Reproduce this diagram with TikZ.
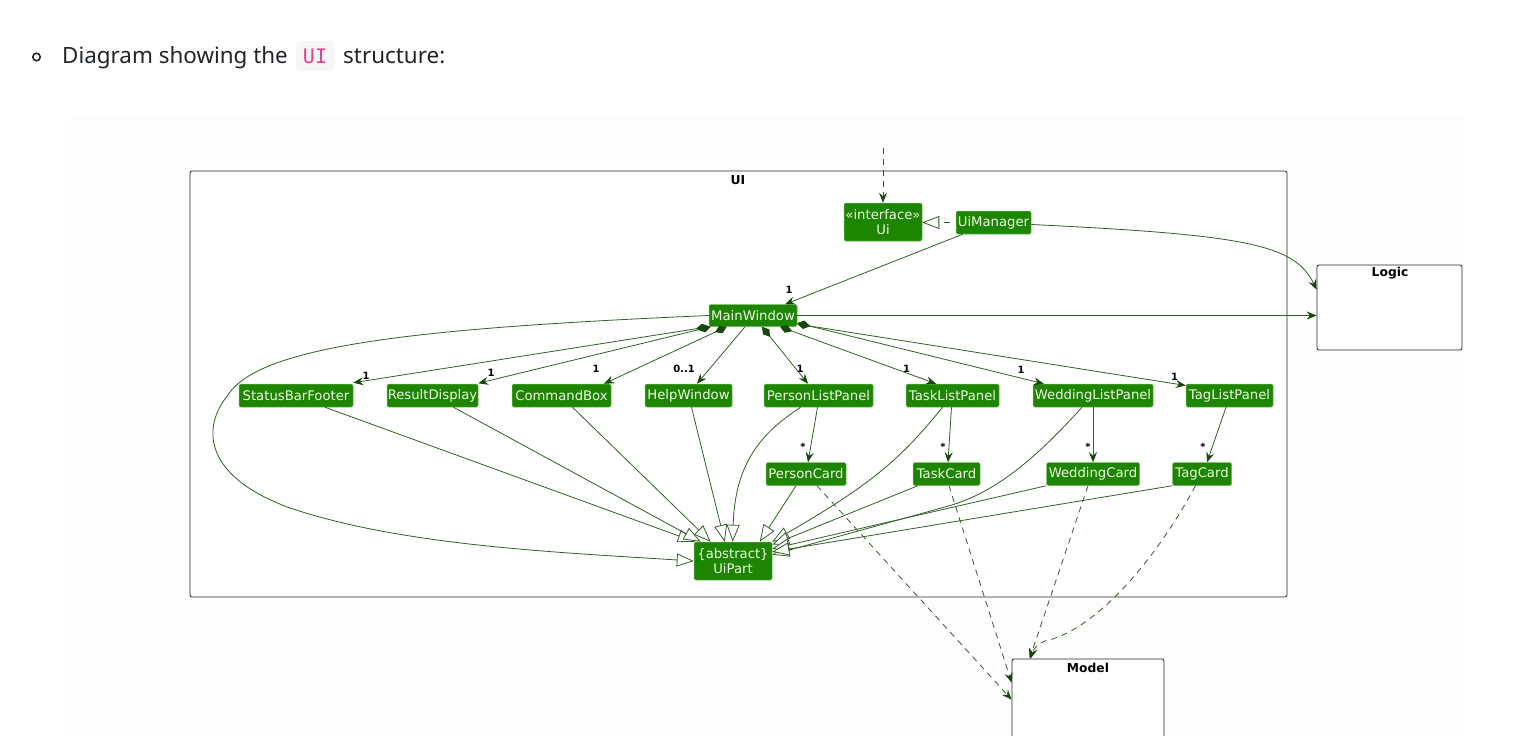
\documentclass[tikz,border=0pt]{standalone}
\usepackage{fontspec}
\setmainfont{Noto Sans}
\newfontfamily\dejavu{DejaVu Sans}
\newfontfamily\codefont{DejaVu Sans Mono}
\usetikzlibrary{arrows.meta,calc}
\definecolor{umlgreen}{RGB}{29,133,0}
\definecolor{umlrim}{RGB}{120,185,100}
\definecolor{umltext}{RGB}{240,248,235}
\definecolor{edgecol}{RGB}{50,95,40}
\definecolor{headcol}{RGB}{22,72,12}
\definecolor{framecol}{RGB}{40,40,40}
\definecolor{titlecol}{RGB}{33,37,41}
\definecolor{codebg}{RGB}{246,246,246}
\definecolor{codepink}{RGB}{232,62,140}
\definecolor{pagebg}{RGB}{253,253,253}
\tikzset{
  cls/.style={draw=umlrim, line width=0.5pt, fill=umlgreen, text=umltext,
    font=\dejavu\fontsize{13.2}{15.8}\selectfont, inner sep=0pt,
    rounded corners=1.5pt, align=center},
  pkg/.style={draw=framecol, line width=0.8pt, fill=white, rounded corners=2pt, inner sep=0pt},
  pkglabel/.style={font=\dejavu\bfseries\fontsize{12.3}{14}\selectfont, inner sep=0pt, text=black},
  edge/.style={draw=edgecol, line width=0.8pt},
  nav/.style={edge, -{Stealth[length=10pt,width=8pt,inset=3.5pt,color=headcol]}},
  comp/.style={edge, {Diamond[length=13pt,width=8pt,color=headcol]}-{Stealth[length=10pt,width=8pt,inset=3.5pt,color=headcol]}},
  gen/.style={edge, -{Triangle[open,length=17pt,width=13pt,fill=white,color=edgecol]}},
  dep/.style={nav, dash pattern=on 6pt off 5pt},
  mult/.style={font=\dejavu\bfseries\fontsize{10}{12}\selectfont, inner sep=0pt, text=black},
}
\begin{document}
\begin{tikzpicture}[x=1pt,y=-1pt]
\useasboundingbox (0,0) rectangle (1518,736);
\fill[white] (0,0) rectangle (1518,736);
\fill[pagebg] (70,117) rectangle (1465,736);

% heading
\node[circle, draw=titlecol, line width=1.6pt, minimum size=7.5pt, inner sep=0pt] (bullet) at (36.5,57) {};
\node[anchor=base west, font=\fontsize{22.4}{26}\selectfont, text=titlecol, inner sep=0pt] (t1) at (62,63) {Diagram showing the};
\node[fill=codebg, rounded corners=4pt, minimum width=38pt, minimum height=30pt, inner sep=0pt] (uicode) at (315,56) {};
\node[anchor=base, font=\codefont\fontsize{20}{24}\selectfont, text=codepink, inner sep=0pt] (uitext) at (315,63) {UI};
\node[anchor=base west, font=\fontsize{22.4}{26}\selectfont, text=titlecol, inner sep=0pt] (t2) at (343,63) {structure:};

% packages
\node[pkg, minimum width=1097pt, minimum height=426pt] (frame) at (738.5,384) {};
\node[pkglabel] (framelabel) at (738,180) {UI};
\node[pkg, minimum width=145pt, minimum height=85pt] (logic) at (1389.5,307.5) {};
\node[pkglabel] (logiclabel) at (1390,273.5) {Logic};
\node[pkg, minimum width=152pt, minimum height=91pt] (model) at (1088,704.5) {};
\node[pkglabel] (modellabel) at (1088,668) {Model};

% classes
\node[cls, minimum width=78pt, minimum height=38pt] (ui) at (883,222) {«interface»\\Ui};
\node[cls, minimum width=75pt, minimum height=23pt] (uim) at (993.5,222.5) {UiManager};
\node[cls, minimum width=88pt, minimum height=22pt] (mw) at (753,315.5) {MainWindow};
\node[cls, minimum width=114pt, minimum height=23pt] (sbf) at (296,395.5) {StatusBarFooter};
\node[cls, minimum width=91pt, minimum height=23pt] (rd) at (432.5,395.5) {ResultDisplay};
\node[cls, minimum width=99pt, minimum height=23pt] (cb) at (561.5,395.5) {CommandBox};
\node[cls, minimum width=87pt, minimum height=23pt] (hw) at (688.5,395.5) {HelpWindow};
\node[cls, minimum width=109pt, minimum height=23pt] (plp) at (818.5,395.5) {PersonListPanel};
\node[cls, minimum width=93pt, minimum height=23pt] (tlp) at (952.5,395.5) {TaskListPanel};
\node[cls, minimum width=120pt, minimum height=23pt] (wlp) at (1093,395.5) {WeddingListPanel};
\node[cls, minimum width=87pt, minimum height=23pt] (tgp) at (1229.5,395.5) {TagListPanel};
\node[cls, minimum width=80pt, minimum height=23pt] (pc) at (806,474) {PersonCard};
\node[cls, minimum width=67pt, minimum height=23pt] (tc) at (946.5,474) {TaskCard};
\node[cls, minimum width=93pt, minimum height=23pt] (wc) at (1093,474) {WeddingCard};
\node[cls, minimum width=59pt, minimum height=23pt] (tgc) at (1202,474) {TagCard};
\node[cls, minimum width=78pt, minimum height=38pt] (uip) at (733,561) {\{abstract\}\\UiPart};

% incoming dependency to Ui
\coordinate (uisrc) at (883,148);
\draw[dep] (uisrc) -- (ui.north);
% realization
\draw[edge, dash pattern=on 6pt off 6pt, dash phase=6pt, -{Triangle[open,length=17pt,width=13pt,fill=white,color=edgecol]}] (uim.west) -- (uim.west -| ui.east);
% UiManager -> MainWindow
\draw[nav] ($(uim.south west)+(7,0)$) -- ($(mw.north)+(32,0)$);
\node[mult] (m0) at (789,290) {1};
% to Logic
\draw[nav] ($(uim.east)+(0,2)$) .. controls (1250,235) and (1295,245) .. ($(logic.north west)+(0,25)$);
\draw[nav] (mw.east) -- (mw.east -| logic.west);

% compositions
\draw[comp] (mw.south west) -- ($(sbf.north east)+(0,-1)$);
\draw[comp] ($(mw.south west)+(2,0)$) -- ($(rd.north east)+(0,-0.5)$);
\draw[comp] ($(mw.south west)+(18,0)$) -- ($(cb.north)+(42.5,0)$);
\draw[nav] ($(mw.south)+(-8,0)$) -- ($(hw.north)+(8.5,0)$);
\draw[comp] ($(mw.south)+(9,0)$) -- ($(plp.north)+(-10.5,0)$);
\draw[comp] ($(mw.south)+(27,0)$) -- ($(tlp.north)+(-16.5,0)$);
\draw[comp] ($(mw.east)+(0,7.5)$) -- ($(wlp.north west)+(11,0)$);
\draw[comp] ($(mw.east)+(0,8.5)$) -- ($(tgp.west)+(0,-10)$);
\node[mult] (m1) at (366,376) {1};
\node[mult] (m2) at (491,373) {1};
\node[mult] (m3) at (596,369) {1};
\node[mult] (m4) at (684,369) {0..1};
\node[mult] (m5) at (800,368.5) {1};
\node[mult] (m6) at (906.5,369) {1};
\node[mult] (m7) at (1021,370) {1};
\node[mult] (m8) at (1174.5,377) {1};

% panels -> cards
\draw[nav] ($(plp.south)+(-1,0)$) -- ($(pc.north)+(2,0)$);
\draw[nav] ($(tlp.south)+(-1,0)$) -- ($(tc.north)+(1.5,0)$);
\draw[nav] (wlp.south) -- (wc.north);
\draw[nav] ($(tgp.south)+(-3.5,0)$) -- ($(tgc.north)+(5,0)$);
\node[mult] (s1) at (803,447) {*};
\node[mult] (s2) at (943,447) {*};
\node[mult] (s3) at (1088,447) {*};
\node[mult] (s4) at (1203,447) {*};

% generalizations to UiPart
\draw[gen] (mw.west) .. controls (420,328) and (260,345) .. (228,395)
  .. controls (203,425) and (200,475) .. (290,508)
  .. controls (400,545) and (550,552) .. (uip.west);
\draw[gen] ($(sbf.south)+(29,0)$) -- ($(uip.north west)+(1,0)$);
\draw[gen] ($(rd.south)+(21,0)$) -- ($(uip.north west)+(7,0)$);
\draw[gen] ($(cb.south)+(11,0)$) -- ($(uip.north west)+(17,0)$);
\draw[gen] ($(hw.south)+(3,0)$) -- ($(uip.north west)+(31,0)$);
\draw[gen] ($(plp.south)+(-18,0)$) .. controls (770,428) and (735,455) .. ($(uip.north west)+(39,0)$);
\draw[gen] ($(pc.south)+(-10,0)$) -- ($(uip.north west)+(66,0)$);
\draw[gen] ($(tlp.south)+(-10,0)$) .. controls (900,460) and (870,485) .. (uip.north east);
\draw[gen] ($(tc.south west)+(5,0)$) -- ($(uip.north east)+(0,3)$);
\draw[gen] ($(wlp.south)+(-11,0)$) .. controls (1030,465) and (990,495) .. (945,507) -- ($(uip.north east)+(0,13)$);
\draw[gen] (wc.south west) -- ($(uip.north east)+(0,7)$);
\draw[gen] (tgc.south west) -- ($(uip.north east)+(0,10)$);

% dependencies to Model
\draw[dep] ($(pc.south)+(11,0)$) -- ($(model.north west)+(0,41)$);
\draw[dep] ($(tc.south)+(2.5,0)$) -- ($(model.north west)+(0,24)$);
\draw[dep] ($(wc.south)+(-5,0)$) -- ($(model.north west)+(18,0)$);
\draw[dep] ($(tgc.south)+(-6.5,0)$) .. controls (1150,570) and (1090,632) .. (1045,641)
  .. controls (1038,643) and (1033,650) .. ($(model.north west)+(19,0)$);
\end{tikzpicture}
\end{document}
